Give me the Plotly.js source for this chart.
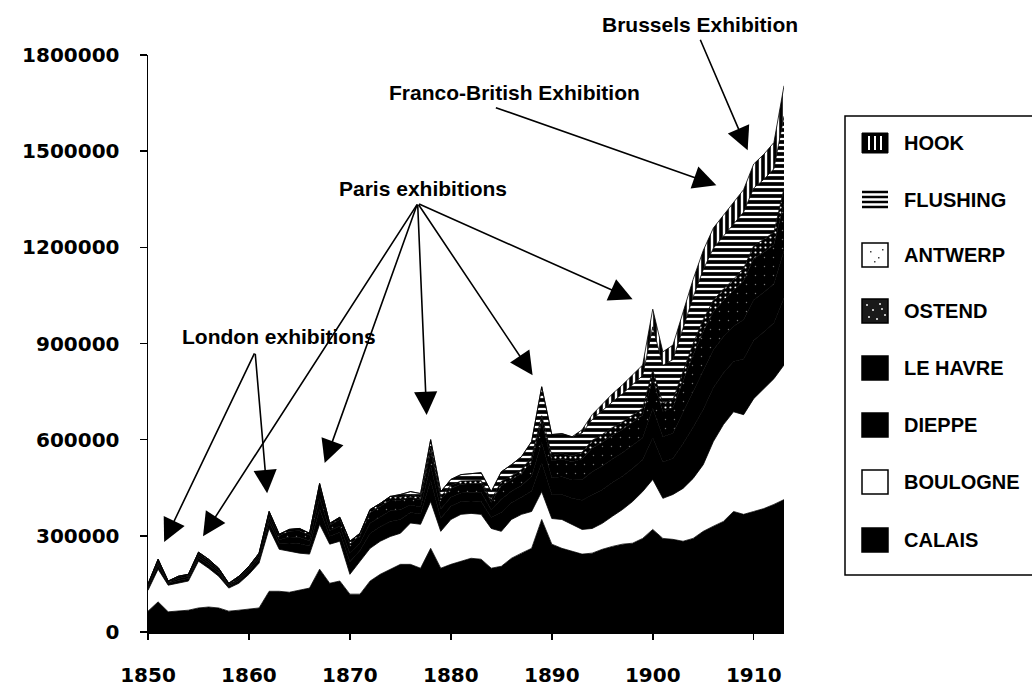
<!DOCTYPE html>
<html>
<head>
<meta charset="utf-8">
<script src="https://cdn.plot.ly/plotly-3.0.1.min.js"></script>
<style>
  html, body { margin: 0; padding: 0; background: #fff; }
  #chart { width: 1032px; height: 688px; }
</style>
</head>
<body>
<div id="chart"></div>
<script>
// Years (category axis)
const years = [1850,1851,1852,1853,1854,1855,1856,1857,1858,1859,
  1860,1861,1862,1863,1864,1865,1866,1867,1868,1869,
  1870,1871,1872,1873,1874,1875,1876,1877,1878,1879,
  1880,1881,1882,1883,1884,1885,1886,1887,1888,1889,
  1890,1891,1892,1893,1894,1895,1896,1897,1898,1899,
  1900,1901,1902,1903,1904,1905,1906,1907,1908,1909,
  1910,1911,1912,1913];

// Passengers by port (stacked, bottom to top)
const calais = [65000,94000,63000,65000,68000,75000,78000,75000,65000,68000,
  72000,75000,127000,127000,124000,130000,137000,196000,152000,159000,
  118000,118000,159000,180000,196000,211000,211000,199000,261000,199000,
  211000,221000,230000,227000,199000,205000,230000,246000,261000,351000,
  274000,261000,252000,243000,246000,258000,267000,274000,277000,292000,
  320000,292000,289000,283000,292000,314000,330000,345000,376000,367000,
  376000,385000,398000,413000];
const boulogne = [65000,102000,83000,87000,91000,146000,121000,99000,72000,84000,
  108000,140000,196000,131000,128000,116000,106000,140000,122000,124000,
  62000,103000,102000,103000,102000,97000,129000,137000,146000,115000,
  140000,146000,140000,140000,124000,109000,121000,121000,115000,87000,
  80000,90000,84000,77000,77000,81000,94000,108000,130000,146000,
  156000,125000,140000,165000,187000,208000,264000,302000,311000,311000,
  352000,374000,392000,420000];
const dieppe = [8000,12000,5000,9000,8000,11000,11000,10000,6000,9000,
  10000,12000,20000,18000,26000,29000,25000,48000,25000,28000,
  39000,33000,46000,45000,47000,43000,33000,32000,66000,41000,
  41000,40000,39000,40000,34000,59000,52000,53000,64000,90000,
  75000,78000,81000,91000,104000,105000,105000,104000,103000,99000,
  130000,113000,112000,139000,160000,172000,168000,161000,157000,174000,
  181000,177000,174000,209000];
const leHavre = [5000,8000,3000,6000,6000,7000,7000,7000,4000,6000,
  7000,8000,14000,12000,18000,20000,17000,34000,17000,20000,
  27000,23000,32000,31000,33000,30000,23000,22000,46000,29000,
  28000,27000,27000,28000,24000,41000,36000,37000,45000,63000,
  52000,55000,57000,64000,73000,74000,74000,73000,72000,69000,
  91000,79000,79000,98000,112000,121000,118000,113000,110000,122000,
  127000,124000,122000,147000];
const ostend = [5000,8000,3000,5000,5000,7000,7000,6000,3000,5000,
  6000,8000,14000,12000,18000,21000,17000,35000,17000,20000,
  28000,23000,33000,32000,34000,30000,24000,22000,46000,29000,
  28000,27000,27000,28000,24000,42000,36000,38000,46000,64000,
  53000,55000,57000,65000,74000,74000,74000,73000,72000,70000,
  91000,80000,80000,99000,113000,122000,118000,113000,111000,122000,
  129000,125000,122000,148000];
const antwerp = [2000,3000,2000,2000,2000,3000,3000,2000,2000,2000,
  2000,3000,5000,5000,6000,7000,6000,10000,6000,7000,
  9000,8000,10000,10000,11000,10000,8000,8000,15000,10000,
  10000,10000,9000,10000,8000,14000,12000,12000,15000,20000,
  17000,18000,18000,21000,24000,24000,24000,24000,23000,22000,
  29000,25000,25000,31000,36000,38000,37000,36000,35000,39000,
  40000,40000,39000,47000];
const flushing = [0,0,0,0,0,0,0,0,0,0,
  0,0,0,0,0,0,0,0,0,0,
  0,0,0,0,0,8000,10000,12000,20000,15000,
  18000,20000,22000,24000,25000,30000,35000,40000,48000,90000,
  65000,62000,60000,60000,65000,76000,80000,87000,95000,102000,
  135000,118000,125000,135000,145000,155000,162000,165000,172000,175000,
  180000,187000,198000,225000];
const hook = [0,0,0,0,0,0,0,0,0,0,
  0,0,0,0,0,0,0,0,0,0,
  0,0,0,0,0,0,0,0,0,0,
  0,0,0,0,0,0,0,0,0,0,
  0,0,0,10000,15000,20000,25000,28000,30000,33000,
  55000,42000,45000,50000,55000,60000,63000,65000,68000,70000,
  75000,78000,82000,95000];

const seriesNames = ['CALAIS','BOULOGNE','DIEPPE','LE HAVRE','OSTEND','ANTWERP','FLUSHING','HOOK'];
const seriesData = [calais, boulogne, dieppe, leHavre, ostend, antwerp, flushing, hook];

// Styles (kept apart from data)
const styles = [
  {fillcolor:'#000000'},
  {fillcolor:'#ffffff'},
  {fillcolor:'#000000'},
  {fillcolor:'#000000'},
  {fillcolor:'#000000', fillpattern:{shape:'.', bgcolor:'#000000', fgcolor:'#777777', size:9, solidity:0.02}},
  {fillcolor:'#000000', fillpattern:{shape:'.', bgcolor:'#000000', fgcolor:'#ffffff', size:5, solidity:0.15}},
  {fillcolor:'#ffffff', fillpattern:{shape:'-', bgcolor:'#ffffff', fgcolor:'#000000', size:6, solidity:0.62}},
  {fillcolor:'#ffffff', fillpattern:{shape:'|', bgcolor:'#ffffff', fgcolor:'#000000', size:6, solidity:0.6}}
];

const traces = seriesNames.map((name, i) => Object.assign({
  type:'scatter', mode:'lines', name:name, x:years, y:seriesData[i],
  stackgroup:'ports', line:{width:0.8, color:'#000'}, showlegend:false,
  hoverinfo:'x+y+name'
}, styles[i]));

// pixel -> paper helpers for decorations
const PL = 148, PR = 784, PT = 55, PB = 632;
const px = x => (x - PL) / (PR - PL);
const py = y => (PB - y) / (PB - PT);

const shapes = [];
const annotations = [];

// Legend box
shapes.push({type:'rect', xref:'paper', yref:'paper', x0:px(845), x1:px(1045), y0:py(575), y1:py(116),
  line:{color:'#000', width:1.5}, fillcolor:'rgba(0,0,0,0)'});

const legendItems = ['HOOK','FLUSHING','ANTWERP','OSTEND','LE HAVRE','DIEPPE','BOULOGNE','CALAIS'];
const legendY = [143, 200, 255, 311, 368, 425, 482, 540];
const sx0 = 862, sx1 = 888;
legendItems.forEach((lab, k) => {
  const cy = legendY[k];
  const y0 = py(cy + 12), y1 = py(cy - 12);
  if (lab === 'HOOK') {
    shapes.push({type:'rect', xref:'paper', yref:'paper', x0:px(sx0), x1:px(sx1), y0:py(cy+10), y1:py(cy-10), fillcolor:'#000', line:{color:'#000', width:1}});
    [869, 875, 881].forEach(xx => shapes.push({type:'line', xref:'paper', yref:'paper', x0:px(xx), x1:px(xx), y0:py(cy+7), y1:py(cy-7), line:{color:'#fff', width:2}}));
  } else if (lab === 'FLUSHING') {
    [-8, -3, 2, 7].forEach(d => shapes.push({type:'line', xref:'paper', yref:'paper', x0:px(sx0), x1:px(sx1), y0:py(cy+d), y1:py(cy+d), line:{color:'#000', width:2.5}}));
  } else if (lab === 'ANTWERP') {
    shapes.push({type:'rect', xref:'paper', yref:'paper', x0:px(sx0), x1:px(sx1), y0:y0, y1:y1, fillcolor:'#fff', line:{color:'#000', width:1.5}});
    [[870,cy-4],[878,cy+2],[874,cy+6],[882,cy-6]].forEach(p => shapes.push({type:'rect', xref:'paper', yref:'paper', x0:px(p[0]), x1:px(p[0]+1.5), y0:py(p[1]+1.5), y1:py(p[1]), fillcolor:'#444', line:{width:0}}));
  } else if (lab === 'OSTEND') {
    shapes.push({type:'rect', xref:'paper', yref:'paper', x0:px(sx0), x1:px(sx1), y0:y0, y1:y1, fillcolor:'#1a1a1a', line:{color:'#000', width:1.5}});
    [[866,cy-7],[872,cy-2],[879,cy-8],[884,cy+3],[868,cy+5],[876,cy+7],[881,cy-3]].forEach(p => shapes.push({type:'rect', xref:'paper', yref:'paper', x0:px(p[0]), x1:px(p[0]+2), y0:py(p[1]+2), y1:py(p[1]), fillcolor:'#bbb', line:{width:0}}));
  } else if (lab === 'BOULOGNE') {
    shapes.push({type:'rect', xref:'paper', yref:'paper', x0:px(sx0), x1:px(sx1), y0:y0, y1:y1, fillcolor:'#fff', line:{color:'#000', width:1.5}});
  } else {
    shapes.push({type:'rect', xref:'paper', yref:'paper', x0:px(sx0), x1:px(sx1), y0:y0, y1:y1, fillcolor:'#000', line:{color:'#000', width:1.5}});
  }
  annotations.push({xref:'paper', yref:'paper', x:px(902), y:py(cy), xanchor:'left', yanchor:'middle',
    text:lab, showarrow:false, font:{family:'Liberation Sans Narrow, Liberation Sans, Arial', size:20, weight:'bold', color:'#000'}});
});

// Callout labels
const labFont = {family:'Liberation Sans, Arial', size:21, weight:'bold', color:'#000'};
const callouts = [
  ['Brussels Exhibition', 700, 24],
  ['Franco-British Exhibition', 514, 92],
  ['Paris exhibitions', 423, 188],
  ['London exhibitions', 279, 336]
];
callouts.forEach(c => annotations.push({xref:'paper', yref:'paper', x:px(c[1]), y:py(c[2]), xanchor:'center', yanchor:'middle',
  text:c[0], showarrow:false, font:labFont}));

// Arrows: tip in data coords, tail as pixel offset
const arrows = [
  [1851.6, 281000, 91, -190],
  [1861.8, 433000, -12, -141],
  [1855.45, 299000, 215, -333],
  [1867.5, 527000, 93, -260],
  [1877.6, 677000, -9, -212],
  [1888.1, 801000, -115, -172],
  [1898.0, 1038000, -215, -96],
  [1906.3, 1394000, -222, -78],
  [1909.4, 1503000, -48, -112]
];
arrows.forEach(a => annotations.push({x:a[0], y:a[1], xref:'x', yref:'y', ax:a[2], ay:a[3], text:'',
  showarrow:true, arrowhead:2, arrowsize:2.9, arrowwidth:1.6, arrowcolor:'#000', standoff:0}));

const tickFont = {family:'DejaVu Sans, Arial', size:20, weight:'bold', color:'#000'};

const layout = {
  width:1032, height:688,
  margin:{l:PL, r:1032-PR, t:PT, b:688-PB, pad:0},
  paper_bgcolor:'#fff', plot_bgcolor:'#fff',
  showlegend:false,
  xaxis:{range:[1850,1913], tickmode:'linear', tick0:1850, dtick:10, showgrid:false, zeroline:false,
    showline:true, linecolor:'#000', linewidth:1.5, ticks:'outside', ticklen:6, tickwidth:1.5, tickcolor:'#000',
    tickfont:tickFont, ticklabelstandoff:18},
  yaxis:{range:[0,1800000], tickmode:'linear', tick0:0, dtick:300000, tickformat:'d', showgrid:false, zeroline:false,
    showline:true, linecolor:'#000', linewidth:1.5, ticks:'outside', ticklen:7, tickwidth:1.5, tickcolor:'#000',
    tickfont:tickFont, ticklabelstandoff:16},
  shapes:shapes,
  annotations:annotations
};

Plotly.newPlot('chart', traces, layout, {staticPlot:true, displayModeBar:false});
</script>
</body>
</html>
